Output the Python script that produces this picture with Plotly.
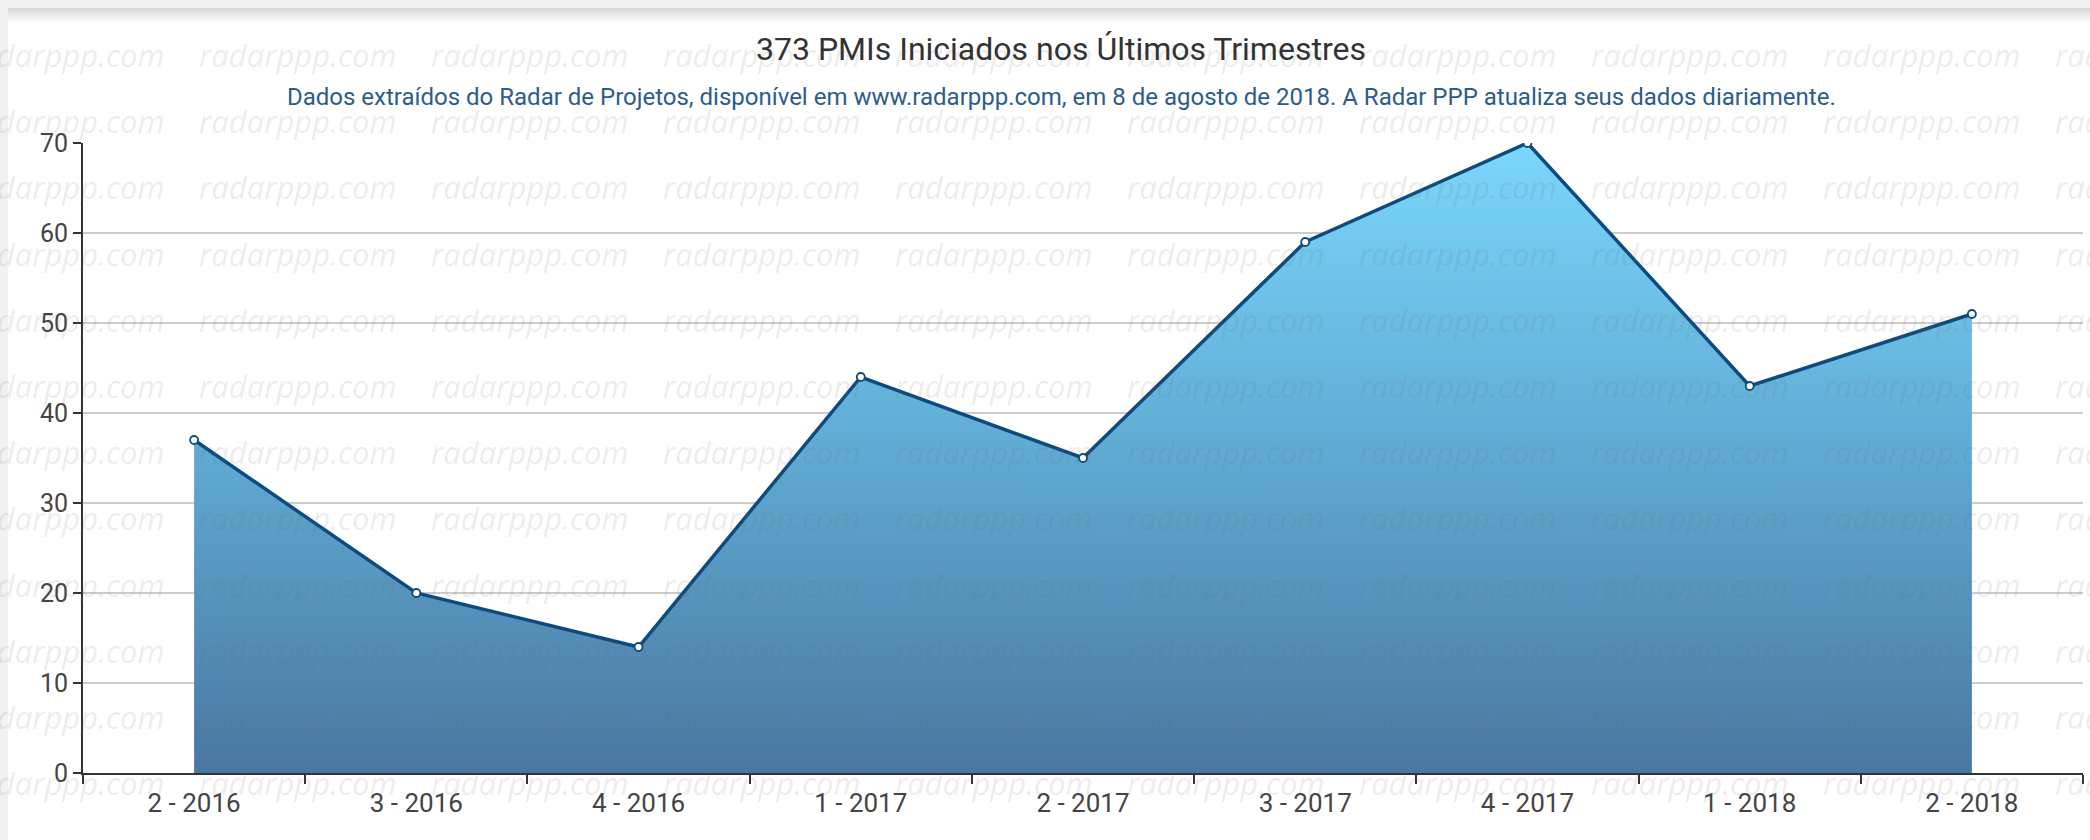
import plotly.graph_objects as go

# ---- data ----
categories = ["2 - 2016", "3 - 2016", "4 - 2016", "1 - 2017", "2 - 2017",
              "3 - 2017", "4 - 2017", "1 - 2018", "2 - 2018"]
values = [37, 20, 14, 44, 35, 59, 70, 43, 51]
y_ticks = [0, 10, 20, 30, 40, 50, 60, 70]

title_text = "373 PMIs Iniciados nos Últimos Trimestres"
subtitle_text = ("Dados extraídos do Radar de Projetos, disponível em www.radarppp.com, "
                 "em 8 de agosto de 2018. A Radar PPP atualiza seus dados diariamente.")
watermark_text = "radarppp.com"

W, H = 2090, 840
ML, MR, MT, MB = 83, 7, 143, 67
PW, PH = W - ML - MR, H - MT - MB


def px_x(px):
    return (px - ML) / PW


def px_y(py):
    return (H - MB - py) / PH


fig = go.Figure()
fig.add_trace(go.Scatter(
    x=categories, y=values, mode="lines+markers",
    fill="tozeroy",
    fillgradient=dict(type="vertical", start=0, stop=70,
                      colorscale=[[0, "#4a77a1"], [0.5, "#5fa9d2"], [1, "#7bd7fb"]]),
    line=dict(color="#0e4a7e", width=3.5),
    marker=dict(size=8, color="white", line=dict(color="#0e4a7e", width=1.8)),
    hoverinfo="x+y", showlegend=False,
))

shapes = []
# page grey margins and top shadow
shapes.append(dict(type="rect", xref="paper", yref="paper", layer="below",
                   x0=px_x(0), x1=px_x(8), y0=px_y(H), y1=px_y(0),
                   fillcolor="#f1f1f1", line=dict(width=0)))
shapes.append(dict(type="rect", xref="paper", yref="paper", layer="below",
                   x0=px_x(0), x1=px_x(W), y0=px_y(8), y1=px_y(0),
                   fillcolor="#f1f1f1", line=dict(width=0)))
shade = ["#d9d9d9", "#dfdfdf", "#e5e5e5", "#eaeaea", "#efefef", "#f4f4f4", "#f9f9f9"]
for i, c in enumerate(shade):
    shapes.append(dict(type="rect", xref="paper", yref="paper", layer="below",
                       x0=px_x(8), x1=px_x(W), y0=px_y(8 + 2 * (i + 1)), y1=px_y(8 + 2 * i),
                       fillcolor=c, line=dict(width=0)))

annotations = []
# watermark grid
col_starts = [197 + 232 * k for k in range(-1, 9)]
row_centers = [55 + 66.2 * r for r in range(12)]
for yc in row_centers:
    for xs in col_starts:
        annotations.append(dict(
            xref="paper", yref="paper", x=px_x(xs), y=px_y(yc),
            xanchor="left", yanchor="middle", showarrow=False,
            text=watermark_text,
            font=dict(family="Open Sans", size=31, style="italic",
                      color="rgba(110,110,110,0.13)"),
        ))

annotations.append(dict(
    xref="paper", yref="paper", x=px_x(1061), y=px_y(49),
    xanchor="center", yanchor="middle", showarrow=False, text=title_text,
    font=dict(family="Roboto", size=32, color="#333333"),
))
annotations.append(dict(
    xref="paper", yref="paper", x=px_x(1061), y=px_y(97),
    xanchor="center", yanchor="middle", showarrow=False, text=subtitle_text,
    font=dict(family="Roboto", size=24, color="#2a5d8c"),
))

fig.update_layout(
    width=W, height=H,
    margin=dict(l=ML, r=MR, t=MT, b=MB, pad=0),
    paper_bgcolor="white", plot_bgcolor="rgba(0,0,0,0)",
    shapes=shapes, annotations=annotations,
    font=dict(family="Roboto", color="#444444"),
    xaxis=dict(
        type="category", categoryorder="array", categoryarray=categories,
        range=[-0.5, len(categories) - 0.5],
        tickson="boundaries", ticks="outside", ticklen=9, tickwidth=1.5,
        tickcolor="#333333", showline=True, linecolor="#333333", linewidth=2,
        showgrid=False, tickfont=dict(family="Roboto", size=26, color="#444444"),
        ticklabelstandoff=6, fixedrange=True,
    ),
    yaxis=dict(
        range=[0, 70], tickvals=y_ticks, ticks="outside", ticklen=8, tickwidth=1.5,
        tickcolor="#333333", showline=True, linecolor="#333333", linewidth=2,
        showgrid=True, gridcolor="#cccccc", gridwidth=1.5, zeroline=False,
        tickfont=dict(family="Roboto", size=25, color="#444444"),
        fixedrange=True,
    ),
)

fig.write_html("out.html", config={"displayModeBar": False},
               post_script="document.body.style.margin='0';document.body.style.overflow='hidden';")
